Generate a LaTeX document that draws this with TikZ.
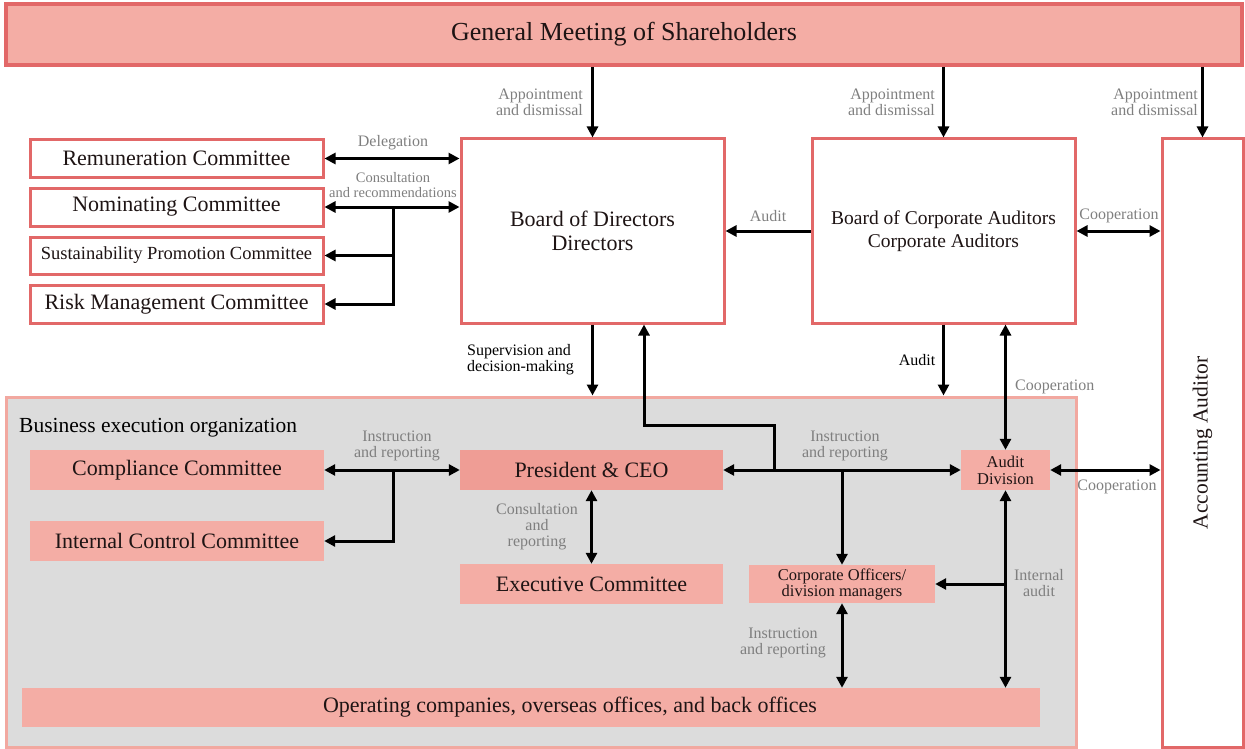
\documentclass[tikz,border=0pt]{standalone}
\usepackage{fontspec}
\setmainfont{Liberation Serif}
\usetikzlibrary{arrows.meta}
\definecolor{salmon}{HTML}{F4ADA5}
\definecolor{ceofill}{HTML}{EF9D95}
\definecolor{redline}{HTML}{E26868}
\definecolor{pinkline}{HTML}{F2A8A0}
\definecolor{greyfill}{HTML}{DCDCDC}
\definecolor{lblgray}{HTML}{7F7F7F}
\definecolor{txt}{HTML}{1E1414}
\tikzset{
  base/.style={rectangle, inner sep=0pt, text=txt, align=center},
  wbox/.style={base, draw=redline, line width=3pt, fill=white, font=\fontsize{22}{24}\selectfont},
  sbox/.style={base, fill=salmon, font=\fontsize{22}{24}\selectfont},
  lbl/.style={text=lblgray, inner sep=0pt, align=center, font=\fontsize{16}{16}\selectfont},
  blbl/.style={text=black, inner sep=0pt, align=left, font=\fontsize{16}{16}\selectfont},
  arr/.style={line width=3pt, -{Triangle[length=11pt,width=11pt]}},
  dbl/.style={line width=3pt, {Triangle[length=11pt,width=11pt]}-{Triangle[length=11pt,width=11pt]}},
  ln/.style={line width=3pt}
}
\begin{document}
\begin{tikzpicture}[x=1pt,y=-1pt]
\useasboundingbox (0,0) rectangle (1245,749);
% grey area
\node[base, draw=pinkline, line width=3pt, fill=greyfill, minimum width=1070pt, minimum height=350pt] (beo) at (541,572) {};
\node[blbl, anchor=west, font=\fontsize{21.5}{24}\selectfont] (beot) at (19,428) {Business execution organization};
% top
\node[base, draw=redline, line width=4pt, fill=salmon, minimum width=1236pt, minimum height=61pt, font=\fontsize{26}{28}\selectfont] (gms) at (624,34.5) {\raisebox{-2pt}{General Meeting of Shareholders}};
\node[wbox, minimum width=263pt, minimum height=184pt] (bod) at (592.5,231) {Board of Directors\\Directors};
\node[wbox, minimum width=263pt, minimum height=184pt, font=\fontsize{19.5}{23}\selectfont] (bca) at (943.5,231) {Board of Corporate Auditors\\Corporate Auditors};
\node[wbox, minimum width=81pt, minimum height=608pt] (acc) at (1202.5,443) {};
\node[base, rotate=90, font=\fontsize{21.5}{24}\selectfont] (acct) at (acc.center) {Accounting Auditor};
\node[wbox, minimum width=293pt, minimum height=37pt] (rem) at (176.5,158.5) {Remuneration Committee};
\node[wbox, minimum width=293pt, minimum height=38pt] (nom) at (176.5,207) {Nominating Committee};
\node[wbox, minimum width=293pt, minimum height=37pt, font=\fontsize{18.5}{20}\selectfont] (sus) at (176.5,255.5) {Sustainability Promotion Committee};
\node[wbox, minimum width=293pt, minimum height=38pt] (risk) at (176.5,304) {Risk Management Committee};
% inside grey
\node[sbox, minimum width=294pt, minimum height=40pt] (comp) at (177,470) {Compliance Committee};
\node[sbox, minimum width=294pt, minimum height=40pt] (icc) at (177,541) {Internal Control Committee};
\node[sbox, fill=ceofill, minimum width=263pt, minimum height=40pt] (ceo) at (591.5,470) {President \& CEO};
\node[sbox, minimum width=263pt, minimum height=40pt] (exec) at (591.5,584) {Executive Committee};
\node[sbox, minimum width=186pt, minimum height=38pt, font=\fontsize{16.5}{16}\selectfont] (corp) at (842,584) {Corporate Officers/\\division managers};
\node[sbox, minimum width=89pt, minimum height=40pt, font=\fontsize{16.5}{17}\selectfont] (aud) at (1005.5,470) {Audit\\Division};
\node[sbox, minimum width=1018pt, minimum height=39pt] (ops) at (531,707.5) {\hspace*{78pt}Operating companies, overseas offices, and back offices};
% connectors from GMS
\draw[arr] (gms.south -| bod.north) -- (bod.north);
\draw[arr] (gms.south -| bca.north) -- (bca.north);
\draw[arr] (gms.south -| acc.north) -- (acc.north);
\node[lbl, anchor=east, align=right] (l1) at (583,102) {Appointment\\and dismissal};
\node[lbl, anchor=east, align=right] (l2) at (935,102) {Appointment\\and dismissal};
\node[lbl, anchor=east, align=right] (l3) at (1198,102) {Appointment\\and dismissal};
% committees
\draw[dbl] (rem.east) -- (rem.east -| bod.west);
\draw[dbl] (nom.east) -- (nom.east -| bod.west);
\coordinate (j1) at (393,207);
\draw[arr] (j1) |- (sus.east);
\draw[arr] (j1) |- (risk.east);
\node[lbl] (l4) at (393,143) {Delegation};
\node[lbl, font=\fontsize{14.5}{15}\selectfont] (l5) at (393,185) {Consultation\\and recommendations};
% audit / cooperation
\draw[arr] (bca.west) -- (bod.east);
\node[lbl] (l6) at (768,216) {Audit};
\draw[dbl] (bca.east) -- (bca.east -| acc.west);
\node[lbl] (l7) at (1119,216) {Cooperation};
% supervision
\draw[arr] (bod.south) -- (bod.south |- beo.north);
\node[blbl, anchor=west] (l8) at (467,360) {Supervision and\\decision-making};
\draw[arr] (bca.south) -- (bca.south |- beo.north);
\node[blbl] (l9) at (917,360) {Audit};
\draw[dbl] (bca.south -| aud.north) -- (aud.north);
\node[lbl, anchor=west] (l10) at (1015,387) {Cooperation};
% execution
\draw[dbl] (comp.east) -- (ceo.west);
\coordinate (j5) at (393,470);
\draw[arr] (j5) |- (icc.east);
\node[lbl] (l11) at (397,446) {Instruction\\and reporting};
\draw[dbl] (ceo.south) -- (exec.north);
\node[lbl] (l12) at (537,527) {Consultation\\and\\reporting};
\draw[dbl] (ceo.east) -- (aud.west);
\coordinate (j2) at (774,470);
\coordinate (k) at (644,425);
\draw[arr] (j2) |- (k) -- (k |- bod.south);
\node[lbl] (l13) at (845,446) {Instruction\\and reporting};
\coordinate (j3) at (842,470);
\draw[arr] (j3) -- (corp.north);
\draw[dbl] (aud.east) -- (aud.east -| acc.west);
\node[lbl] (l14) at (1117,487) {Cooperation};
\draw[dbl] (aud.south) -- (aud.south |- ops.north);
\coordinate (j4) at (1005.5,584);
\draw[arr] (j4) -- (corp.east);
\node[lbl] (l15) at (1039,583) {Internal\\audit};
\draw[dbl] (corp.south) -- (corp.south |- ops.north);
\node[lbl] (l16) at (783,643) {Instruction\\and reporting};
\end{tikzpicture}
\end{document}
